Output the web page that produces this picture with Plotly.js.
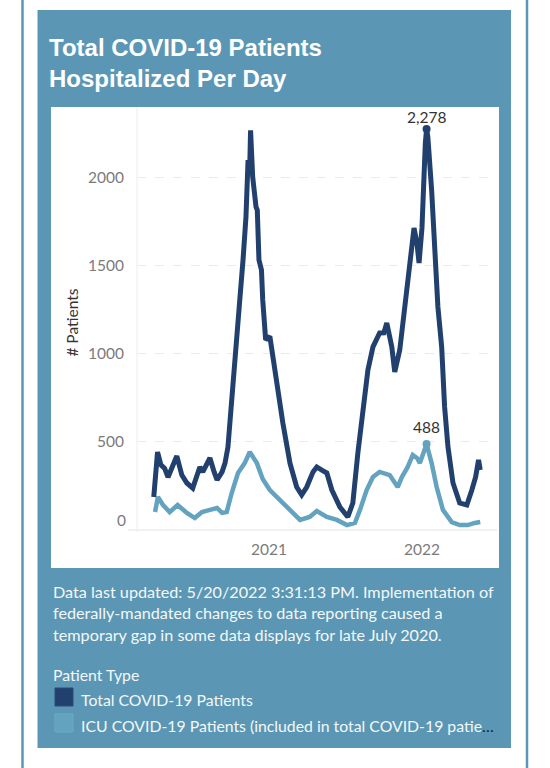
<!DOCTYPE html>
<html>
<head>
<meta charset="utf-8">
<script src="https://cdn.plot.ly/plotly-3.0.1.min.js"></script>
<style>
  html, body { margin: 0; padding: 0; background: #ffffff; }
  #chart { width: 550px; height: 768px; }
</style>
</head>
<body>
<div id="chart"></div>
<script>
// ---------------- DATA ----------------
const totalDates = [
  '2020-04-01','2020-04-10','2020-04-18','2020-04-27','2020-05-05','2020-05-14','2020-05-26','2020-06-07',
  '2020-06-19','2020-07-03','2020-07-13','2020-07-20','2020-07-27','2020-08-06','2020-08-13','2020-08-23',
  '2020-08-30','2020-09-11','2020-09-18','2020-09-25','2020-09-30','2020-10-07','2020-10-16','2020-10-23',
  '2020-10-31','2020-11-07','2020-11-12','2020-11-16','2020-11-18','2020-11-23','2020-12-01','2020-12-04',
  '2020-12-08','2020-12-14','2020-12-17','2020-12-24','2021-01-03','2021-01-10','2021-01-20','2021-02-03',
  '2021-02-20','2021-03-08','2021-03-20','2021-04-01','2021-04-16','2021-04-25','2021-05-07','2021-05-19',
  '2021-05-31','2021-06-19','2021-07-08','2021-07-20','2021-08-01','2021-08-13','2021-08-25','2021-09-06',
  '2021-09-11','2021-09-22','2021-10-02','2021-10-09','2021-10-21','2021-10-28','2021-11-09','2021-11-14',
  '2021-11-21','2021-11-28','2021-12-08','2021-12-13','2021-12-20','2021-12-25','2022-01-01','2022-01-03',
  '2022-01-09','2022-01-12','2022-01-15','2022-01-24','2022-01-31','2022-02-08','2022-02-17','2022-02-24',
  '2022-03-04','2022-03-16','2022-04-01','2022-04-18','2022-04-30','2022-05-09','2022-05-16','2022-05-20'
];
const totalValues = [
  187, 443, 370, 350, 300, 360, 420, 312,
  267, 238, 300, 358, 330, 380, 409, 330,
  284, 330, 380, 470, 625, 892, 1100, 1300,
  1534, 1778, 2102, 2063, 2270, 2006, 1835, 1818,
  1534, 1477, 1307, 1080, 1100, 980, 852, 608,
  380, 244, 199, 244, 330, 358, 340, 324,
  227, 131, 74, 153, 437, 699, 909, 1040,
  1062, 1119, 1120, 1176, 1040, 898, 1023, 1119,
  1267, 1437, 1630, 1716, 1630, 1517, 1716, 1875,
  2199, 2278, 2233, 1932, 1591, 1267, 1040, 699,
  472, 267, 153, 142, 227, 301, 398, 341
];
const icuDates = [
  '2020-04-04','2020-04-11','2020-04-23','2020-05-09','2020-05-28','2020-06-19','2020-07-08','2020-07-25',
  '2020-08-13','2020-08-30','2020-09-11','2020-09-22','2020-10-04','2020-10-19','2020-11-04','2020-11-16',
  '2020-12-03','2020-12-17','2021-01-03','2021-01-27','2021-02-20','2021-03-16','2021-04-08','2021-04-25',
  '2021-05-19','2021-06-12','2021-07-06','2021-07-25','2021-08-06','2021-08-22','2021-09-06','2021-09-22',
  '2021-10-16','2021-11-04','2021-11-14','2021-11-28','2021-12-10','2021-12-20','2021-12-27','2022-01-03',
  '2022-01-12','2022-01-24','2022-02-05','2022-02-20','2022-03-13','2022-04-01','2022-04-20','2022-05-07',
  '2022-05-20'
];
const icuValues = [
  102, 188, 142, 102, 142, 97, 68, 102,
  114, 125, 97, 102, 210, 324, 380, 443,
  380, 290, 227, 170, 114, 57, 74, 108,
  74, 57, 28, 40, 114, 227, 301, 330,
  312, 244, 301, 358, 426, 409, 380, 437,
  488, 380, 244, 114, 45, 28, 28, 40,
  45
];
const seriesNames = ['Total COVID-19 Patients', 'ICU COVID-19 Patients (included in total COVID-19 patie'];
const yTickVals = [500, 1000, 1500, 2000];
const yZeroLabel = '0';
const xTickVals = ['2021-01-01', '2022-01-01'];
const xTickText = ['2021', '2022'];
const xRange = ['2020-02-21', '2022-06-29'];
const yRange = [-45.5, 2403];
const titleText = 'Total COVID-19 Patients<br>Hospitalized Per Day';
const yTitle = '# Patients';
const footnoteLines = [
  'Data last updated: 5/20/2022 3:31:13 PM. Implementation of',
  'federally-mandated changes to data reporting caused a',
  'temporary gap in some data displays for late July 2020.'
];
const legendTitle = 'Patient Type';

// ---------------- STYLE ----------------
const PANEL = '#5b97b4';
const NAVY = '#22406d';
const ICU = '#63a3bf';
const FONT = 'Lato, "Open Sans", sans-serif';
const TICKGRAY = '#7b7b7b';

const M = {l: 137, r: 53, t: 107, b: 230};
const PW = 550 - M.l - M.r, PH = 768 - M.t - M.b;
const fx = px => (px - M.l) / PW;
const fy = py => (768 - M.b - py) / PH;

function argmax(a) { let k = 0; a.forEach((v, i) => { if (v > a[k]) k = i; }); return k; }
const tk = argmax(totalValues), ik = argmax(icuValues);

const traces = [
  {x: icuDates, y: icuValues, type: 'scatter', mode: 'lines', name: seriesNames[1],
   line: {color: ICU, width: 4.5}, hoverinfo: 'skip'},
  {x: totalDates, y: totalValues, type: 'scatter', mode: 'lines', name: seriesNames[0],
   line: {color: NAVY, width: 5}, hoverinfo: 'skip'},
  {x: [totalDates[tk]], y: [totalValues[tk]], type: 'scatter', mode: 'markers',
   marker: {color: NAVY, size: 8}, hoverinfo: 'skip'},
  {x: [icuDates[ik]], y: [icuValues[ik]], type: 'scatter', mode: 'markers',
   marker: {color: ICU, size: 8}, hoverinfo: 'skip'}
];

const shapes = [
  {type: 'line', xref: 'paper', yref: 'paper', x0: fx(22.5), x1: fx(22.5), y0: fy(0), y1: fy(768),
   line: {color: PANEL, width: 2.5}, layer: 'below'},
  {type: 'line', xref: 'paper', yref: 'paper', x0: fx(527), x1: fx(527), y0: fy(0), y1: fy(768),
   line: {color: PANEL, width: 2.5}, layer: 'below'},
  {type: 'rect', xref: 'paper', yref: 'paper', x0: fx(37.5), x1: fx(511), y0: fy(748), y1: fy(10),
   fillcolor: PANEL, line: {width: 0}, layer: 'below'},
  {type: 'rect', xref: 'paper', yref: 'paper', x0: fx(51), x1: fx(499), y0: fy(568), y1: fy(107),
   fillcolor: '#ffffff', line: {width: 0}, layer: 'below'},
  {type: 'line', xref: 'paper', yref: 'y', x0: fx(128), x1: fx(497), y0: 0, y1: 0,
   line: {color: '#e3e3e3', width: 1}, layer: 'below'},
  {type: 'line', xref: 'paper', yref: 'paper', x0: fx(137), x1: fx(137), y0: fy(532), y1: fy(107),
   line: {color: '#ededed', width: 1}, layer: 'below'},
  // legend swatches
  {type: 'rect', xref: 'paper', yref: 'paper', x0: fx(55), x1: fx(73), y0: fy(706), y1: fy(688),
   fillcolor: NAVY, line: {color: '#2c4a78', width: 1}, layer: 'above'},
  {type: 'rect', xref: 'paper', yref: 'paper', x0: fx(55), x1: fx(73), y0: fy(732), y1: fy(714),
   fillcolor: ICU, line: {color: '#6aa8c2', width: 1}, layer: 'above'}
];

const white = '#f4f7f9';
const annotations = [
  {x: totalDates[tk], y: totalValues[tk], text: totalValues[tk].toLocaleString('en-US'),
   showarrow: false, yanchor: 'bottom', yshift: 1, font: {family: FONT, size: 15.5, color: '#333333'}},
  {x: icuDates[ik], y: icuValues[ik], text: icuValues[ik].toLocaleString('en-US'),
   showarrow: false, yanchor: 'bottom', yshift: 6, font: {family: FONT, size: 15.5, color: '#333333'}},
  {xref: 'paper', yref: 'y', x: fx(127.5), y: 0, yshift: 10, xanchor: 'right', yanchor: 'middle',
   text: yZeroLabel, showarrow: false, font: {family: FONT, size: 15.5, color: TICKGRAY}},
  {xref: 'paper', yref: 'paper', x: fx(51), y: fy(674), xanchor: 'left', yanchor: 'middle',
   text: legendTitle, showarrow: false, font: {family: FONT, size: 15.8, color: white}},
  {xref: 'paper', yref: 'paper', x: fx(79), y: fy(699), xanchor: 'left', yanchor: 'middle',
   text: seriesNames[0], showarrow: false, font: {family: FONT, size: 15.8, color: white}},
  {xref: 'paper', yref: 'paper', x: fx(79), y: fy(725), xanchor: 'left', yanchor: 'middle',
   text: seriesNames[1] + '<span style="color:#1c2533">…</span>', showarrow: false,
   font: {family: FONT, size: 15.8, color: white}}
];
const footY = [591, 612.5, 634];
footnoteLines.forEach((t, i) => {
  annotations.push({xref: 'paper', yref: 'paper', x: fx(51), y: fy(footY[i]), xanchor: 'left', yanchor: 'middle',
    text: t, showarrow: false, font: {family: FONT, size: 16.2, color: white}});
});

const layout = {
  width: 550, height: 768,
  margin: M,
  paper_bgcolor: '#ffffff',
  plot_bgcolor: 'rgba(0,0,0,0)',
  showlegend: false,
  title: {text: '<b>' + titleText.replace('<br>', '</b><br><b>') + '</b>',
          font: {family: '"Liberation Sans", Arial, sans-serif', size: 24, color: '#ffffff'},
          xref: 'container', yref: 'container', x: 49 / 550, xanchor: 'left', y: 1 - 56 / 768, yanchor: 'top'},
  xaxis: {
    type: 'date', range: xRange, tickvals: xTickVals, ticktext: xTickText,
    showgrid: false, zeroline: false, showline: false,
    ticks: '', 
    tickfont: {family: FONT, size: 15.5, color: TICKGRAY}, fixedrange: true
  },
  yaxis: {
    range: yRange, tickvals: yTickVals,
    showgrid: true, gridcolor: '#ebebeb', griddash: 'dash', gridwidth: 1,
    zeroline: false, showline: false,
    ticks: 'outside', ticklen: 9, tickcolor: 'rgba(0,0,0,0)',
    tickfont: {family: FONT, size: 15.5, color: TICKGRAY},
    title: {text: yTitle, standoff: 5, font: {family: FONT, size: 15.5, color: '#333333'}},
    fixedrange: true
  },
  shapes: shapes,
  annotations: annotations
};

Plotly.newPlot('chart', traces, layout, {displayModeBar: false, staticPlot: true});
</script>
</body>
</html>
